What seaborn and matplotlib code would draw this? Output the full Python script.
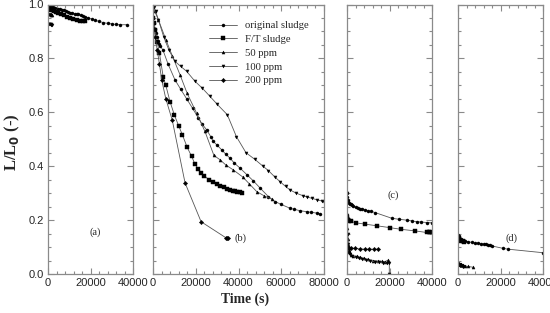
import numpy as np
import pandas as pd
import matplotlib
matplotlib.use('Agg')
import matplotlib.pyplot as plt
import seaborn as sns
from matplotlib.ticker import MultipleLocator

# 데이터
series_names = ['original sludge', 'F/T sludge', '50 ppm', '100 ppm', '200 ppm']
series_markers = ['o', 's', '^', 'v', 'D']
panel_labels = ['(a)', '(b)', '(c)', '(d)']
panel_xmax = [40000, 80000, 40000, 40000]
x_major_ticks = [[0, 20000, 40000], [0, 20000, 40000, 60000, 80000],
                 [0, 20000, 40000], [0, 20000, 40000]]
y_major_ticks = [0.0, 0.2, 0.4, 0.6, 0.8, 1.0]

# panel (a)
a_orig_t = [0, 800, 1600, 2500, 3500, 4500, 5500, 6400, 7500, 8500, 9500, 10500, 11500, 12500,
            13500, 14300, 15500, 16500, 17500, 19000, 20500, 22100, 24000, 26000, 28000, 30000,
            32000, 34000, 37000]
a_orig_L = [1.0, 0.997, 0.994, 0.99, 0.987, 0.984, 0.982, 0.981, 0.978, 0.975, 0.972, 0.970, 0.968,
            0.966, 0.964, 0.963, 0.960, 0.957, 0.954, 0.950, 0.946, 0.942, 0.937, 0.933, 0.930,
            0.928, 0.926, 0.925, 0.925]
a_ft_t = [0, 500, 1000, 1600, 2300, 3000, 3800, 4850, 6000, 7500, 9000, 10500, 11900, 13500,
          15000, 16300, 17400]
a_ft_L = [0.99, 0.987, 0.984, 0.981, 0.978, 0.975, 0.972, 0.969, 0.965, 0.960, 0.955, 0.951,
          0.947, 0.943, 0.940, 0.938, 0.938]
a_50_t = [0, 400, 800, 1200, 1600, 2000]
a_50_L = [0.965, 0.964, 0.963, 0.963, 0.962, 0.962]
a_100_t = [0, 400, 800, 1200, 1600, 2000]
a_100_L = [0.928, 0.927, 0.926, 0.926, 0.925, 0.925]
a_200_t = [0, 300, 600, 1000]
a_200_L = [1.0, 0.995, 0.99, 0.985]

# panel (b)
b_orig_t = [0, 500, 1000, 1500, 2000, 2500, 3000, 3500, 4700, 7000, 10300, 13000, 15750, 18500,
            21200, 23000, 25100, 27000, 28200, 30000, 32100, 34000, 36000, 38000, 40700, 44000,
            47000, 50000, 54000, 57100, 60000, 64100, 66000, 68800, 72000, 74000, 76600, 78100]
b_orig_L = [0.95, 0.93, 0.91, 0.895, 0.88, 0.865, 0.855, 0.845, 0.83, 0.78, 0.72, 0.685, 0.65,
            0.615, 0.579, 0.556, 0.535, 0.51, 0.492, 0.478, 0.461, 0.445, 0.430, 0.412, 0.393,
            0.368, 0.345, 0.32, 0.287, 0.269, 0.258, 0.244, 0.24, 0.235, 0.231, 0.229, 0.226, 0.224]
b_ft_t = [0, 500, 1000, 2000, 3000, 4800, 6000, 7950, 10000, 12000, 13720, 16000, 18100, 19500,
          21200, 22500, 24000, 26200, 28000, 29800, 31500, 33000, 34500, 36000, 37500, 38500,
          39500, 40500, 41500]
b_ft_L = [0.95, 0.93, 0.905, 0.86, 0.82, 0.73, 0.70, 0.64, 0.59, 0.55, 0.517, 0.47, 0.436, 0.41,
          0.389, 0.375, 0.365, 0.349, 0.34, 0.333, 0.327, 0.322, 0.317, 0.312, 0.309, 0.307,
          0.305, 0.303, 0.30]
b_50_t = [0, 800, 2500, 6000, 9000, 12600, 16000, 20400, 24300, 28500, 31340, 34000, 37590,
          42000, 45000, 48500, 52000, 55500]
b_50_L = [0.99, 0.975, 0.944, 0.87, 0.81, 0.74, 0.67, 0.597, 0.529, 0.44, 0.424, 0.405, 0.386,
          0.36, 0.335, 0.306, 0.29, 0.278]
b_100_t = [0, 500, 1200, 2500, 5000, 7500, 10300, 13000, 15750, 19650, 23000, 26660, 30000,
           34770, 39000, 43500, 47700, 51600, 53950, 57000, 59400, 62000, 64100, 67000, 70300,
           72000, 74200, 76500, 78900, 80000]
b_100_L = [1.0, 0.99, 0.975, 0.944, 0.88, 0.83, 0.789, 0.77, 0.752, 0.715, 0.69, 0.659, 0.63,
           0.591, 0.51, 0.45, 0.425, 0.399, 0.384, 0.36, 0.343, 0.325, 0.312, 0.30, 0.29, 0.286,
           0.281, 0.276, 0.271, 0.269]
b_200_t = [0, 500, 1000, 2000, 3000, 4070, 6000, 9030, 15000, 22500, 34000, 34700, 35200]
b_200_L = [0.93, 0.91, 0.88, 0.83, 0.78, 0.72, 0.65, 0.57, 0.338, 0.194, 0.135, 0.134, 0.134]

# panel (c)
c_orig_t = [0, 150, 300, 500, 800, 1200, 1700, 2200, 3000, 4000, 5000, 6000, 7000, 8500, 10000,
            11500, 13200, 21000, 24500, 28000, 30500, 32800, 35000, 37500, 40000]
c_orig_L = [0.30, 0.285, 0.275, 0.268, 0.262, 0.26, 0.258, 0.257, 0.252, 0.248, 0.245, 0.242,
            0.240, 0.238, 0.235, 0.232, 0.228, 0.207, 0.203, 0.200, 0.197, 0.194, 0.193, 0.191, 0.19]
c_ft_t = [0, 200, 400, 650, 1000, 2000, 4000, 8500, 14000, 20200, 25200, 32000, 37500, 38500, 39200]
c_ft_L = [0.21, 0.205, 0.202, 0.20, 0.197, 0.195, 0.19, 0.185, 0.179, 0.172, 0.166, 0.16, 0.154,
          0.154, 0.154]
c_50_t = [0, 200, 400, 600, 800, 1000, 1400, 2000, 3000, 4500, 6100, 8000, 10000, 12400, 14500,
          16500, 17900, 19400]
c_50_L = [0.22, 0.17, 0.13, 0.10, 0.085, 0.08, 0.077, 0.072, 0.068, 0.065, 0.062, 0.058, 0.054,
          0.050, 0.048, 0.047, 0.046, 0.052]
c_100_t = [0, 200, 400, 600, 800, 1000, 1500, 2500, 4000, 5500, 7000, 9000, 11000, 13000, 15000,
           17000, 19000, 19900, 19900]
c_100_L = [0.30, 0.22, 0.15, 0.11, 0.09, 0.083, 0.075, 0.068, 0.062, 0.058, 0.055, 0.051, 0.048,
           0.045, 0.043, 0.042, 0.041, 0.040, 0.0]
c_200_t = [0, 500, 1000, 2000, 3760, 6000, 8500, 10500, 12500, 14700]
c_200_L = [0.108, 0.102, 0.098, 0.096, 0.095, 0.093, 0.092, 0.092, 0.092, 0.092]

# panel (d)
d_orig_t = [0, 300, 700, 1200, 1740, 2500, 3500, 4860, 6500, 8000, 9550, 11000, 12000, 13000,
            14260, 15000, 16000, 21300, 23700, 40000]
d_orig_L = [0.145, 0.14, 0.135, 0.13, 0.126, 0.124, 0.122, 0.12, 0.117, 0.115, 0.114, 0.112,
            0.111, 0.110, 0.108, 0.106, 0.104, 0.095, 0.092, 0.079]
d_ft_t = [0, 300, 600, 1000, 1500, 2200, 3000]
d_ft_L = [0.135, 0.13, 0.127, 0.125, 0.123, 0.121, 0.119]
d_50_t = [0, 700, 1500, 2500, 3500, 4700, 7200]
d_50_L = [0.04, 0.038, 0.036, 0.033, 0.03, 0.028, 0.025]
d_200_t = [0, 400, 800, 1500, 2500]
d_200_L = [0.038, 0.036, 0.034, 0.032, 0.031]

panels = [
    {'original sludge': (a_orig_t, a_orig_L), 'F/T sludge': (a_ft_t, a_ft_L),
     '50 ppm': (a_50_t, a_50_L), '100 ppm': (a_100_t, a_100_L), '200 ppm': (a_200_t, a_200_L)},
    {'original sludge': (b_orig_t, b_orig_L), 'F/T sludge': (b_ft_t, b_ft_L),
     '50 ppm': (b_50_t, b_50_L), '100 ppm': (b_100_t, b_100_L), '200 ppm': (b_200_t, b_200_L)},
    {'original sludge': (c_orig_t, c_orig_L), 'F/T sludge': (c_ft_t, c_ft_L),
     '50 ppm': (c_50_t, c_50_L), '100 ppm': (c_100_t, c_100_L), '200 ppm': (c_200_t, c_200_L)},
    {'original sludge': (d_orig_t, d_orig_L), 'F/T sludge': (d_ft_t, d_ft_L),
     '50 ppm': (d_50_t, d_50_L), '200 ppm': (d_200_t, d_200_L)},
]

# 스타일 설정
sns.set_theme(style='ticks')
plt.rcParams['font.family'] = ['Liberation Sans', 'DejaVu Sans']
plt.rcParams['axes.unicode_minus'] = False

fig = plt.figure(figsize=(5.5, 3.13), dpi=100)
lefts = [48, 153, 347, 458]
widths = [85, 171, 85, 85]
bottom = 1 - 274 / 313
height = (274 - 4.5) / 313
axes = [fig.add_axes([l / 550, bottom, w / 550, height]) for l, w in zip(lefts, widths)]

label_pos = [(0.55, 0.156), (0.51, 0.134), (0.54, 0.293), (0.635, 0.134)]
spine_col = '#8a8a8a'

for i, ax in enumerate(axes):
    for name, marker in zip(series_names, series_markers):
        if name not in panels[i]:
            continue
        t, L = panels[i][name]
        df = pd.DataFrame({'t': t, 'L': L})
        sns.lineplot(data=df, x='t', y='L', ax=ax, sort=False, estimator=None,
                     color='#555555', linewidth=0.6, marker=marker, markersize=2.2,
                     markerfacecolor='black', markeredgecolor='black', markeredgewidth=0.3,
                     label=name if i == 1 else None, legend=False)
    ax.set_xlim(0, panel_xmax[i])
    ax.set_ylim(0, 1.0)
    ax.set_xticks(x_major_ticks[i])
    ax.set_yticks(y_major_ticks)
    ax.xaxis.set_minor_locator(MultipleLocator(4000))
    ax.yaxis.set_minor_locator(MultipleLocator(0.05))
    ax.tick_params(which='both', direction='in', top=True, right=True, color=spine_col,
                   width=0.8, labelsize=8, pad=3)
    ax.tick_params(which='major', length=4.5)
    ax.tick_params(which='minor', length=2.2)
    ax.set_xlabel('')
    ax.set_ylabel('')
    for sp in ax.spines.values():
        sp.set_color(spine_col)
        sp.set_linewidth(0.9)
    if i == 0:
        ax.set_yticklabels(['0.0', '0.2', '0.4', '0.6', '0.8', '1.0'])
    else:
        ax.set_yticklabels([])
    ax.set_xticklabels([str(v) for v in x_major_ticks[i]])
    ax.text(label_pos[i][0], label_pos[i][1], panel_labels[i], transform=ax.transAxes,
            ha='center', va='center', fontsize=7.5, family=['Liberation Serif', 'DejaVu Serif'])

# 범례
leg = axes[1].legend(loc='upper left', bbox_to_anchor=(0.30, 0.955), frameon=False,
                     prop={'family': ['Liberation Serif', 'DejaVu Serif'], 'size': 7.7},
                     handlelength=2.7, handletextpad=0.7, labelspacing=0.4, borderaxespad=0)

fig.text(12 / 550, 1 - 142 / 313, 'L/L$_\\mathbf{0}$ (-)', rotation=90, ha='center', va='center',
         fontsize=12, fontweight='bold', family=['Liberation Serif', 'DejaVu Serif'])
fig.text(245 / 550, 1 - 299 / 313, 'Time (s)', ha='center', va='center', fontsize=9.8,
         fontweight='bold', family=['Liberation Serif', 'DejaVu Serif'])

plt.savefig('out.png', dpi=100)
